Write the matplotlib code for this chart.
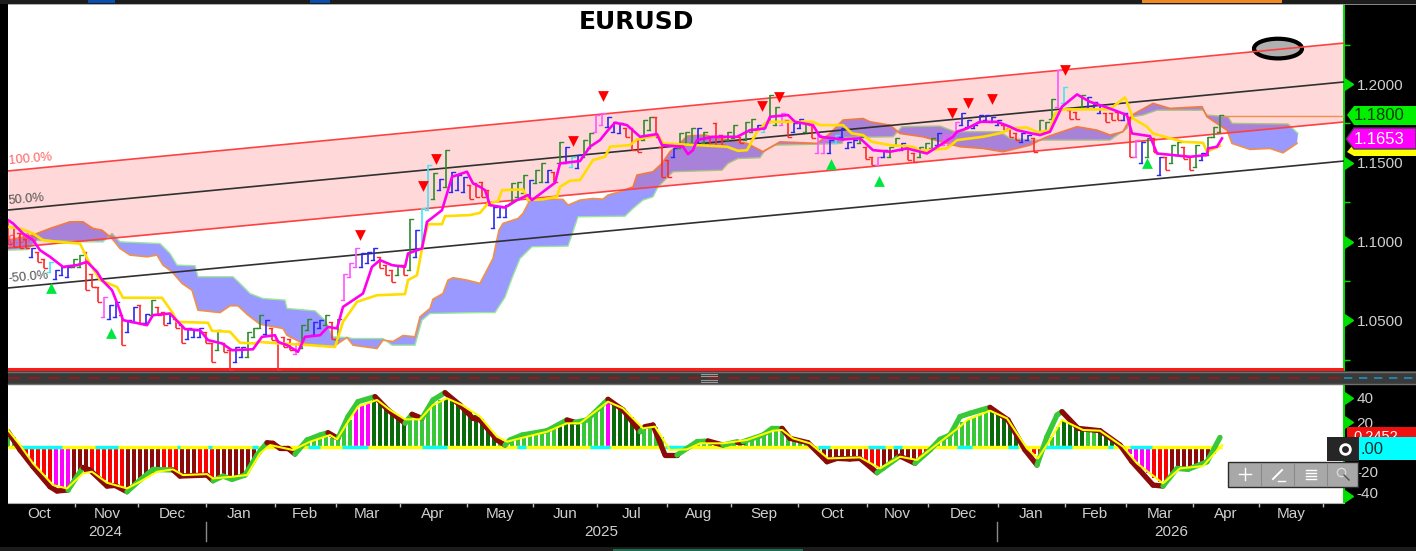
import matplotlib
matplotlib.use('Agg')
import numpy as np
import matplotlib.pyplot as plt
from matplotlib.markers import CARETRIGHTBASE
from matplotlib.patches import Ellipse, Polygon, Rectangle
from matplotlib.transforms import ScaledTranslation

plt.rcParams['font.family'] = ['Liberation Sans', 'DejaVu Sans']

# x runs along the chart's own position scale, prices are EURUSD
channel_x = [8, 1344]
upper_band = [1.1448, 1.2260]
mid_band = [1.1200, 1.2013]
lower_band = [1.0959, 1.1759]
minus_band = [1.0705, 1.1511]
floor_level = 1.0190
last_senkou = 1.1800

tenkan_x = [8, 13, 23, 33, 40, 50, 63, 77, 87, 97, 102, 112, 118, 123, 147, 153, 170, 178, 185, 200, 208, 222, 232, 253,
            262, 275, 278, 287, 298, 305, 320, 328, 337, 343, 363, 372, 380, 392, 405, 408, 422, 427, 442, 452, 467, 473,
            480, 485, 490, 505, 517, 528, 532, 555, 560, 580, 590, 600, 608, 615, 627, 640, 657, 662, 683, 688, 693, 697,
            713, 737, 750, 765, 770, 788, 795, 813, 820, 843, 860, 873, 890, 907, 927, 940, 953, 957, 967, 980, 997, 1010,
            1017, 1032, 1040, 1050, 1062, 1077, 1090, 1107, 1127, 1132, 1150, 1157, 1190, 1207, 1208, 1217, 1222]
tenkan = [1.1136, 1.1115, 1.1051, 1.1009, 1.0945, 1.0903, 1.0839, 1.0850, 1.0871, 1.0808, 1.0755, 1.0691, 1.0596, 1.0501,
          1.0469, 1.0533, 1.0543, 1.0490, 1.0444, 1.0437, 1.0374, 1.0353, 1.0310, 1.0316, 1.0395, 1.0405, 1.0363, 1.0342,
          1.0300, 1.0395, 1.0405, 1.0458, 1.0448, 1.0585, 1.0670, 1.0839, 1.0882, 1.0850, 1.0839, 1.0924, 1.0956, 1.1125,
          1.1199, 1.1411, 1.1443, 1.1369, 1.1347, 1.1326, 1.1231, 1.1216, 1.1263, 1.1295, 1.1263, 1.1373, 1.1496, 1.1511,
          1.1602, 1.1644, 1.1707, 1.1754, 1.1739, 1.1665, 1.1682, 1.1612, 1.1602, 1.1555, 1.1580, 1.1644, 1.1665, 1.1665,
          1.1707, 1.1718, 1.1792, 1.1803, 1.1760, 1.1739, 1.1665, 1.1648, 1.1655, 1.1580, 1.1570, 1.1591, 1.1559, 1.1612,
          1.1665, 1.1697, 1.1718, 1.1760, 1.1760, 1.1729, 1.1707, 1.1686, 1.1676, 1.1697, 1.1856, 1.1934, 1.1887, 1.1851,
          1.1803, 1.1686, 1.1669, 1.1559, 1.1538, 1.1549, 1.1591, 1.1602, 1.1655]

kijun_x = [8, 20, 33, 43, 57, 80, 88, 100, 117, 123, 162, 173, 177, 208, 212, 230, 240, 255, 258, 280, 310, 335, 343, 357,
           377, 405, 408, 417, 423, 428, 442, 445, 470, 480, 488, 498, 502, 523, 528, 542, 557, 560, 570, 580, 593, 605,
           610, 630, 637, 658, 663, 727, 738, 747, 757, 767, 813, 820, 843, 852, 863, 872, 890, 913, 920, 947, 957, 983,
           1002, 1010, 1027, 1038, 1050, 1055, 1063, 1110, 1115, 1125, 1130, 1133, 1147, 1153, 1167, 1183, 1203, 1207, 1220]
kijun = [1.1093, 1.1083, 1.1051, 1.1009, 1.0998, 1.0987, 1.0882, 1.0755, 1.0712, 1.0643, 1.0643, 1.0543, 1.0490, 1.0484,
         1.0433, 1.0427, 1.0357, 1.0353, 1.0363, 1.0353, 1.0342, 1.0331, 1.0490, 1.0617, 1.0659, 1.0666, 1.0755, 1.0786,
         1.0987, 1.1110, 1.1110, 1.1161, 1.1168, 1.1182, 1.1242, 1.1256, 1.1326, 1.1331, 1.1263, 1.1267, 1.1284, 1.1347,
         1.1386, 1.1390, 1.1517, 1.1538, 1.1602, 1.1612, 1.1648, 1.1676, 1.1623, 1.1602, 1.1576, 1.1580, 1.1697, 1.1760,
         1.1760, 1.1739, 1.1739, 1.1686, 1.1676, 1.1633, 1.1612, 1.1602, 1.1576, 1.1591, 1.1644, 1.1665, 1.1690, 1.1718,
         1.1724, 1.1693, 1.1707, 1.1813, 1.1839, 1.1839, 1.1866, 1.1915, 1.1834, 1.1781, 1.1729, 1.1686, 1.1661, 1.1633,
         1.1627, 1.1570, 1.1608]

senkou_b_x = [8, 33, 50, 70, 83, 93, 102, 112, 120, 130, 147, 157, 163, 172, 182, 192, 198, 220, 230, 238, 248, 260, 283,
              287, 303, 315, 333, 347, 353, 377, 383, 393, 403, 415, 420, 430, 433, 443, 448, 453, 467, 480, 493, 499, 503,
              518, 523, 530, 552, 563, 568, 580, 593, 603, 608, 620, 633, 637, 653, 662, 670, 680, 687, 705, 720, 747, 763,
              780, 817, 830, 843, 863, 870, 890, 900, 923, 947, 960, 983, 1003, 1030, 1040, 1047, 1077, 1097, 1110, 1123,
              1132, 1153, 1170, 1202, 1207, 1227, 1232, 1250, 1270, 1283, 1297]
senkou_b = [1.1009, 1.1041, 1.1083, 1.1125, 1.1125, 1.1083, 1.1072, 1.1019, 1.0956, 1.0914, 1.0903, 1.0914, 1.0850, 1.0808,
            1.0734, 1.0691, 1.0564, 1.0549, 1.0592, 1.0592, 1.0533, 1.0475, 1.0448, 1.0405, 1.0353, 1.0342, 1.0331, 1.0391,
            1.0342, 1.0321, 1.0374, 1.0365, 1.0403, 1.0395, 1.0522, 1.0575, 1.0634, 1.0670, 1.0755, 1.0770, 1.0755, 1.0734,
            1.0892, 1.1072, 1.1115, 1.1146, 1.1178, 1.1263, 1.1269, 1.1267, 1.1231, 1.1263, 1.1273, 1.1269, 1.1295, 1.1316,
            1.1347, 1.1422, 1.1443, 1.1496, 1.1570, 1.1623, 1.1669, 1.1676, 1.1655, 1.1623, 1.1570, 1.1633, 1.1623, 1.1686,
            1.1771, 1.1781, 1.1760, 1.1739, 1.1686, 1.1665, 1.1623, 1.1602, 1.1591, 1.1570, 1.1612, 1.1644, 1.1665, 1.1729,
            1.1707, 1.1676, 1.1697, 1.1803, 1.1877, 1.1845, 1.1856, 1.1792, 1.1707, 1.1623, 1.1585, 1.1591, 1.1563, 1.1623]

senkou_a_x = [8, 28, 37, 57, 80, 103, 112, 120, 160, 170, 177, 195, 198, 233, 240, 250, 263, 285, 287, 315, 325, 333, 347,
              353, 383, 392, 415, 422, 430, 480, 495, 505, 512, 520, 532, 568, 578, 625, 633, 643, 653, 658, 673, 722, 728,
              738, 760, 765, 775, 817, 842, 845, 893, 902, 940, 955, 1000, 1010, 1030, 1040, 1110, 1127, 1132, 1143, 1157,
              1203, 1207, 1228, 1232, 1288, 1298]
senkou_a = [1.0945, 1.0949, 1.1009, 1.1005, 1.0998, 1.0998, 1.1051, 1.0998, 1.0987, 1.0924, 1.0850, 1.0846, 1.0776, 1.0776,
            1.0734, 1.0670, 1.0638, 1.0628, 1.0575, 1.0560, 1.0501, 1.0395, 1.0391, 1.0384, 1.0384, 1.0342, 1.0342, 1.0501,
            1.0543, 1.0549, 1.0549, 1.0647, 1.0768, 1.0892, 1.0967, 1.0971, 1.1157, 1.1161, 1.1210, 1.1263, 1.1284, 1.1347,
            1.1443, 1.1453, 1.1496, 1.1527, 1.1532, 1.1580, 1.1612, 1.1618, 1.1623, 1.1661, 1.1665, 1.1729, 1.1733, 1.1697,
            1.1697, 1.1655, 1.1644, 1.1644, 1.1644, 1.1718, 1.1792, 1.1803, 1.1834, 1.1834, 1.1803, 1.1792, 1.1750, 1.1746,
            1.1686]

bar_high = [1.1136, 1.1093, 1.1051, 1.1019, 1.0956, 1.0935, 1.0892, 1.0871, 1.0818, 1.0839, 1.0839, 1.0892, 1.0914, 1.0935,
            1.0797, 1.0712, 1.0649, 1.0596, 1.0617, 1.0533, 1.0501, 1.0585, 1.0596, 1.0543, 1.0628, 1.0585, 1.0554, 1.0533,
            1.0511, 1.0469, 1.0448, 1.0437, 1.0448, 1.0427, 1.0353, 1.0437, 1.0353, 1.0310, 1.0331, 1.0331, 1.0427, 1.0448,
            1.0533, 1.0501, 1.0448, 1.0374, 1.0395, 1.0384, 1.0353, 1.0469, 1.0511, 1.0490, 1.0501, 1.0533, 1.0490, 1.0511,
            1.0797, 1.0861, 1.0956, 1.0924, 1.0935, 1.0956, 1.0903, 1.0850, 1.0818, 1.0850, 1.0850, 1.1146, 1.1072, 1.1210,
            1.1485, 1.1432, 1.1400, 1.1580, 1.1443, 1.1422, 1.1411, 1.1358, 1.1369, 1.1379, 1.1326, 1.1220, 1.1220, 1.1231,
            1.1369, 1.1379, 1.1422, 1.1390, 1.1453, 1.1496, 1.1453, 1.1443, 1.1633, 1.1602, 1.1538, 1.1549, 1.1644, 1.1686,
            1.1803, 1.1813, 1.1792, 1.1760, 1.1750, 1.1718, 1.1718, 1.1644, 1.1771, 1.1792, 1.1792, 1.1602, 1.1517, 1.1591,
            1.1686, 1.1697, 1.1718, 1.1718, 1.1697, 1.1665, 1.1750, 1.1676, 1.1697, 1.1739, 1.1665, 1.1760, 1.1781, 1.1739,
            1.1750, 1.1930, 1.1856, 1.1813, 1.1771, 1.1750, 1.1781, 1.1760, 1.1739, 1.1676, 1.1644, 1.1644, 1.1676, 1.1718,
            1.1633, 1.1644, 1.1665, 1.1602, 1.1538, 1.1538, 1.1580, 1.1602, 1.1655, 1.1623, 1.1591, 1.1559, 1.1602, 1.1623,
            1.1655, 1.1686, 1.1676, 1.1676, 1.1760, 1.1813, 1.1771, 1.1739, 1.1803, 1.1803, 1.1792, 1.1771, 1.1739, 1.1718,
            1.1686, 1.1686, 1.1676, 1.1655, 1.1771, 1.1760, 1.1908, 1.2088, 1.1983, 1.1834, 1.1824, 1.1930, 1.1919, 1.1887,
            1.1866, 1.1813, 1.1813, 1.1824, 1.1813, 1.1792, 1.1644, 1.1633, 1.1655, 1.1655, 1.1538, 1.1538, 1.1612, 1.1633,
            1.1602, 1.1538, 1.1612, 1.1559, 1.1665, 1.1729, 1.1803]
bar_low = [1.0987, 1.0966, 1.0956, 1.0956, 1.0903, 1.0871, 1.0829, 1.0808, 1.0765, 1.0786, 1.0776, 1.0839, 1.0839, 1.0691,
           1.0712, 1.0617, 1.0522, 1.0511, 1.0522, 1.0342, 1.0427, 1.0490, 1.0480, 1.0480, 1.0533, 1.0533, 1.0469, 1.0480,
           1.0448, 1.0353, 1.0384, 1.0395, 1.0395, 1.0353, 1.0236, 1.0310, 1.0300, 1.0183, 1.0236, 1.0268, 1.0268, 1.0395,
           1.0448, 1.0416, 1.0374, 1.0183, 1.0331, 1.0310, 1.0289, 1.0321, 1.0437, 1.0405, 1.0448, 1.0469, 1.0384, 1.0374,
           1.0628, 1.0776, 1.0839, 1.0839, 1.0861, 1.0882, 1.0829, 1.0786, 1.0744, 1.0786, 1.0786, 1.0818, 1.0903, 1.0956,
           1.1199, 1.1273, 1.1326, 1.1347, 1.1316, 1.1326, 1.1316, 1.1273, 1.1284, 1.1284, 1.1231, 1.1083, 1.1157, 1.1157,
           1.1242, 1.1284, 1.1305, 1.1263, 1.1369, 1.1379, 1.1379, 1.1379, 1.1496, 1.1496, 1.1475, 1.1464, 1.1538, 1.1591,
           1.1697, 1.1739, 1.1729, 1.1697, 1.1686, 1.1665, 1.1580, 1.1570, 1.1644, 1.1707, 1.1665, 1.1411, 1.1411, 1.1538,
           1.1591, 1.1623, 1.1623, 1.1633, 1.1623, 1.1612, 1.1612, 1.1612, 1.1644, 1.1655, 1.1623, 1.1644, 1.1697, 1.1707,
           1.1697, 1.1760, 1.1739, 1.1739, 1.1665, 1.1697, 1.1718, 1.1697, 1.1655, 1.1559, 1.1559, 1.1559, 1.1623, 1.1665,
           1.1591, 1.1602, 1.1623, 1.1527, 1.1485, 1.1485, 1.1538, 1.1538, 1.1612, 1.1580, 1.1517, 1.1506, 1.1538, 1.1580,
           1.1591, 1.1612, 1.1612, 1.1612, 1.1697, 1.1739, 1.1729, 1.1718, 1.1760, 1.1771, 1.1760, 1.1739, 1.1707, 1.1665,
           1.1644, 1.1633, 1.1644, 1.1570, 1.1697, 1.1697, 1.1781, 1.1856, 1.1877, 1.1781, 1.1781, 1.1845, 1.1845, 1.1845,
           1.1813, 1.1760, 1.1771, 1.1771, 1.1771, 1.1538, 1.1538, 1.1496, 1.1538, 1.1570, 1.1422, 1.1453, 1.1496, 1.1549,
           1.1527, 1.1453, 1.1475, 1.1517, 1.1549, 1.1665, 1.1697]
# one letter per bar: R red, B blue, G green, M magenta, C cyan
bar_codes = ''.join(['RRRR', 'B', 'RR', 'C', 'BBB', 'GG', 'RRR', 'M', 'BB', 'R', 'BB', 'R', 'B', 'G', 'RR', 'B', 'RR',
                     'BBB', 'RR', 'G', 'RR', 'BB', 'GGG', 'B', 'RRRR', 'M', 'GG', 'BB', 'G', 'R', 'G', 'MMM', 'BBB',
                     'RRR', 'G', 'R', 'G', 'B', 'CC', 'G', 'B', 'G', 'BBB', 'RRRR', 'BBB', 'GGG', 'B', 'GG', 'B', 'R',
                     'G', 'B', 'C', 'B', 'GG', 'MM', 'BBB', 'RRR', 'GG', 'RRR', 'B', 'GGG', 'B', 'G', 'RRR', 'GG', 'R',
                     'GG', 'B', 'C', 'GG', 'M', 'R', 'BB', 'G', 'R', 'MM', 'B', 'C', 'BBB', 'G', 'RR', 'M', 'B', 'GG',
                     'B', 'RR', 'GGG', 'B', 'MMM', 'BBBBBBB', 'RRR', 'BB', 'R', 'GGG', 'M', 'C', 'RR', 'G', 'BBB', 'RRR',
                     'B', 'R', 'M', 'B', 'G', 'R', 'B', 'R', 'GG', 'RR', 'G', 'B', 'GGG'])

sell_x = [360, 436, 423, 573, 603, 762, 779, 952, 968, 992, 1065]
sell_y = [1.1041, 1.1524, 1.1352, 1.1638, 1.1924, 1.1860, 1.1917, 1.1816, 1.1879, 1.1905, 1.2089]
buy_x = [51, 111, 831, 879, 1147]
buy_y = [1.0705, 1.0419, 1.1492, 1.1384, 1.1498]

# lower panel
macd_x = [8, 20, 33, 50, 57, 68, 83, 90, 107, 115, 127, 140, 153, 173, 180, 207, 213, 223, 232, 245, 257, 267, 273, 280,
          288, 295, 307, 320, 328, 338, 348, 358, 375, 388, 405, 412, 422, 433, 445, 460, 473, 480, 497, 505, 510, 522,
          547, 567, 575, 587, 608, 623, 640, 645, 653, 665, 677, 687, 697, 708, 723, 737, 743, 763, 772, 782, 790, 808,
          827, 837, 850, 860, 877, 883, 900, 915, 930, 940, 950, 960, 970, 990, 1008, 1025, 1037, 1047, 1057, 1062, 1078,
          1100, 1120, 1132, 1153, 1163, 1177, 1188, 1207, 1220]
macd = [12.4, -2.4, -15.9, -32.1, -35.6, -34.8, -16.5, -18.6, -31.6, -31.1, -36.2, -26.7, -18.1, -18.6, -23.5, -22.7, -27.3,
        -23.5, -26.2, -22.7, -6.5, 3.5, 3, -1.1, -1.1, -5.7, 5.7, 9.7, 11.6, 7, 24.6, 36.7, 40.8, 30, 19.2, 26.5, 23.2, 38.1,
        44, 34, 23.2, 21.9, 5.7, 1.6, 5.7, 9.7, 13.2, 21.9, 20, 21.9, 38.6, 30, 12.4, 16.5, 17.8, -6.5, -6.5, -1.1, 4.3, 4.9,
        1.6, 4.3, 4.3, 9.7, 15.1, 15.1, 7, 3.5, -11.9, -9.2, -9.7, -9.2, -20.8, -17.3, -7.3, -13.2, -2.4, 6.2, 9.7, 24.6, 27.3,
        32.1, 21.9, -2.4, -14.6, 8.4, 25.9, 28.6, 15.1, 13.2, 1.6, -11.9, -30.8, -31.6, -17.3, -18.1, -11.9, 7.8]
# state of the stretch that starts at each macd point, D falling, U rising
macd_state = ''.join(['DDDDD', 'U', 'DDDD', 'UUU', 'DDD', 'UUUUU', 'DDDD', 'UUU', 'D', 'UUU', 'DD', 'U', 'D', 'UU', 'DDDDD',
                      'UUUU', 'D', 'UU', 'DD', 'U', 'DDD', 'UUU', 'D', 'U', 'D', 'UUU', 'DDDDDDD', 'UU', 'D', 'UUUUUU',
                      'DDD', 'UUU', 'DDDDDD', 'UUUU'])

signal_x = [8, 20, 33, 53, 67, 83, 92, 107, 127, 140, 157, 173, 183, 207, 213, 233, 247, 260, 270, 293, 310, 330, 337, 347,
            358, 377, 390, 405, 420, 433, 447, 462, 480, 497, 507, 520, 547, 567, 580, 608, 623, 643, 655, 670, 687, 700, 723,
            747, 773, 782, 793, 810, 828, 860, 880, 900, 917, 933, 960, 967, 990, 1007, 1027, 1038, 1050, 1062, 1083, 1100,
            1123, 1137, 1163, 1180, 1203, 1222]
signal = [13.8, 1.6, -13.2, -30.8, -33.5, -21.3, -20, -28.9, -33.5, -28.1, -20, -18.1, -22.7, -21.9, -25.4, -24, -22.7, -5.1,
          1.6, -2.4, 4.3, 9.7, 6.2, 19.2, 32.7, 38.1, 30, 22.4, 22.4, 34, 39.4, 34, 24.6, 8.4, 4.3, 7, 12.4, 19.2, 19.2, 36.7,
          31.3, 15.1, 16.5, -2.4, -1.9, 3, 3, 5.7, 13.2, 13.8, 7, 3, -9.2, -8.4, -17.3, -7.8, -10.5, -0.3, 16.5, 21.9, 29.4,
          23.2, -1.1, -9.2, 5.7, 21.9, 13.8, 13.2, 0.3, -13.2, -29.4, -17.3, -15.4, 1.6]

hist = [13, 8, 2, -6, -12, -18, -23, -28, -31, -33, -33, -28, -23, -21, -20, -24, -27, -30, -31, -33, -33, -30, -28, -25, -21,
        -20, -19, -18, -20, -22, -22, -22, -22, -22, -25, -25, -24, -24, -24, -23, -21, -13, -5, 0, 1, 0, -1, -2, -1, 1, 4, 5,
        7, 9, 7, 6, 15, 22, 31, 34, 36, 38, 36, 32, 29, 25, 22, 22, 22, 23, 30, 34, 38, 39, 37, 35, 33, 29, 26, 23, 15, 10, 7,
        4, 5, 7, 8, 9, 10, 12, 13, 15, 18, 19, 19, 19, 22, 26, 31, 35, 37, 34, 32, 29, 24, 19, 15, 16, 16, 8, -1, -2, -2, -2,
        1, 3, 3, 3, 3, 3, 4, 4, 5, 6, 8, 10, 11, 13, 14, 14, 9, 7, 5, 4, 2, -4, -8, -9, -9, -9, -9, -8, -8, -11, -14, -17, -15,
        -12, -9, -8, -9, -10, -9, -5, -1, 3, 7, 11, 15, 20, 22, 24, 27, 29, 29, 26, 24, 19, 12, 4, -2, -6, -6, 2, 8, 16, 21, 19,
        16, 14, 14, 13, 13, 10, 7, 3, 0, -6, -12, -17, -21, -25, -28, -28, -23, -18, -17, -16, -16, -15, -11, -6, 1]
hist_runs = [('lime', 3), ('red', 5), ('mag', 3), ('dark', 3), ('red', 6), ('dark', 6), ('red', 3), ('dark', 3), ('red', 3),
             ('dark', 10), ('dgreen', 5), ('lime', 8), ('mag', 3), ('dgreen', 6), ('lime', 6), ('dgreen', 9), ('lime', 10),
             ('dgreen', 4), ('lime', 4), ('mag', 1), ('dgreen', 5), ('lime', 4), ('dark', 5), ('lime', 20), ('dark', 8),
             ('red', 3), ('dark', 6), ('red', 3), ('lime', 9), ('dgreen', 6), ('red', 3), ('lime', 3), ('dgreen', 4),
             ('lime', 2), ('dgreen', 5), ('mag', 4), ('red', 3), ('dark', 9)]
zero_cyan = [(20, 62), (95, 118), (177, 180), (208, 212), (252, 258), (308, 320), (342, 368), (422, 447), (517, 526),
             (590, 610), (665, 687), (818, 830), (868, 885), (893, 902), (957, 972), (1008, 1018), (1043, 1072),
             (1108, 1113), (1130, 1152)]

month_edges = [75, 138, 206, 275, 336, 400, 467, 533, 597, 667, 731, 798, 867, 928, 998, 1065, 1126, 1193, 1259, 1323]
month_centers = [39, 107, 172, 239, 305, 367, 433, 500, 565, 632, 699, 764, 832, 897, 963, 1031, 1095, 1160, 1226, 1291]
month_labels = ['Oct', 'Nov', 'Dec', 'Jan', 'Feb', 'Mar', 'Apr', 'May', 'Jun', 'Jul', 'Aug', 'Sep', 'Oct', 'Nov', 'Dec',
                'Jan', 'Feb', 'Mar', 'Apr', 'May']
years = [(105, '2024'), (601, '2025'), (1171, '2026')]
year_breaks = [206, 997]

BAR_COLOURS = {'R': '#FF2A2A', 'B': '#2A2AF0', 'G': '#2E8B2E', 'M': '#FF55FF', 'C': '#45E5F5'}
HIST_COLOURS = {'lime': '#38C838', 'dgreen': '#0A6A0A', 'red': '#FF0000', 'dark': '#8B0A0A', 'mag': '#FF00FF'}
LABEL = '#CFCFCF'
W, H = 1416, 551


def panel(fig, top, bottom):
    return fig.add_axes([8 / W, 1 - bottom / H, 1336 / W, (bottom - top) / H])


fig = plt.figure(figsize=(W / 100, H / 100), dpi=100, facecolor='black')
ax = panel(fig, 4, 371)
ax2 = panel(fig, 385, 503)

# main panel
ax.set_xlim(8, 1344)
ax.set_ylim(1.0178, 1.2508)
ax.fill(list(senkou_a_x) + list(senkou_b_x)[::-1], list(senkou_a) + list(senkou_b)[::-1],
        color='#9999FF', lw=0, zorder=1)
ax.plot(senkou_a_x, senkou_a, color='#9BE59B', lw=1.0, zorder=1.2)
ax.plot(senkou_b_x, senkou_b, color='#F0904A', lw=1.2, zorder=1.2)
ax.fill_between(channel_x, upper_band, lower_band, color='red', alpha=0.15, lw=0, zorder=2)
ax.add_patch(Ellipse((1278, 1.2225), 48, 0.0125, facecolor='#B0B0B0', edgecolor='black', lw=3.0, zorder=2.5))
ax.plot(channel_x, upper_band, color='#FF4040', lw=1.2, zorder=3)
ax.plot(channel_x, lower_band, color='#FF4040', lw=1.2, zorder=3)
ax.plot(channel_x, mid_band, color='#303030', lw=1.2, zorder=3)
ax.plot(channel_x, minus_band, color='#303030', lw=1.2, zorder=3)
ax.axhline(floor_level, color='#FF1A1A', lw=2.2, zorder=3)
ax.plot([1223, 1344], [last_senkou, last_senkou], color='#F0904A', lw=1.0, zorder=3)

bar_x = 8 + 6 * np.arange(len(bar_high))
bar_cols = [BAR_COLOURS[c] for c in bar_codes]
assert len(bar_high) == len(bar_low) == len(bar_codes)
ax.vlines(bar_x, bar_low, bar_high, colors=bar_cols, lw=1.2, zorder=4)
for x, hi, lo, code, col in zip(bar_x, bar_high, bar_low, bar_codes, bar_cols):
    # falling bars open high and close low, the others the other way round
    first, last = (hi, lo) if code == 'R' else (lo, hi)
    ax.plot([x - 3, x], [first, first], color=col, lw=1.0, zorder=4)
    ax.plot([x, x + 3], [last, last], color=col, lw=1.0, zorder=4)

ax.plot(kijun_x, kijun, color='#FFDD00', lw=1.9, zorder=5)
ax.plot(tenkan_x, tenkan, color='#FF00EE', lw=1.9, zorder=5.5)
ax.scatter(sell_x, sell_y, marker='v', s=60, color='#FF0000', lw=0, zorder=6)
ax.scatter(buy_x, buy_y, marker='^', s=60, color='#00E640', lw=0, zorder=6)

band_labels = [('100.0%', 1.1524, '#FF6060'), ('50.0%', 1.1270, '#505050'), ('0.0%', 1.1010, '#FF4060'),
               ('-50.0%', 1.0775, '#505050')]
for label, y, col in band_labels:
    ax.text(8, y, label, color=col, fontsize=9.2, rotation=5, va='center', ha='left', zorder=3.2)

ax.set_title('EURUSD', x=(636 - 8) / 1336, y=1 - 14 / 367, va='top', fontsize=18, fontweight='bold',
             family='DejaVu Sans', color='black')

# lower panel
ax2.set_xlim(8, 1344)
ax2.set_ylim(-45.3, 50.2)
hist_x = 8 + 6 * np.arange(len(hist))
hist_cols = [HIST_COLOURS[name] for name, count in hist_runs for _ in range(count)]
assert len(hist_cols) == len(hist)
ax2.bar(hist_x, hist, width=3.6, color=hist_cols, lw=0, zorder=1)
ax2.plot([8, 1222], [0, 0], color='#FFFF00', lw=2.4, solid_capstyle='butt', zorder=2)
for x0, x1 in zero_cyan:
    ax2.plot([x0, x1], [0, 0], color='#00FFFF', lw=2.4, solid_capstyle='butt', zorder=2.1)
assert len(macd_state) == len(macd) - 1 and len(macd) == len(macd_x)
for i in range(len(macd) - 1):
    col = '#8B0A0A' if macd_state[i] == 'D' else '#38C838'
    ax2.plot(macd_x[i:i + 2], macd[i:i + 2], color=col, lw=3.8, solid_capstyle='round', zorder=3)
ax2.plot(signal_x, signal, color='#FFFF00', lw=1.5, zorder=4)

# axes dressing
price_ticks = [1.05, 1.10, 1.15, 1.20]
ax.set_yticks(price_ticks, [f'{p:.4f}' for p in price_ticks])
ax.set_yticks([1.025, 1.075, 1.125, 1.175, 1.225], minor=True)
ax2.set_yticks([-40, -20, 20, 40], ['-40', '-20', '20', '40'])
ax2.set_xticks(month_edges, [''] * len(month_edges))
ax2.set_xticks(month_centers, month_labels, minor=True)
ax.set_xticks([])

for a in (ax, ax2):
    a.set_facecolor('white')
    a.yaxis.tick_right()
    for side in ('top', 'left', 'bottom'):
        a.spines[side].set_visible(False)
    a.spines['right'].set_color('#00E000')
    a.spines['right'].set_linewidth(1.4)
    a.tick_params(axis='y', which='major', length=6, width=1, color='#00E000', labelcolor=LABEL, labelsize=11, pad=3)
    a.tick_params(axis='y', which='minor', length=4, width=1, color='#00E000')
    a.plot([1] * len(a.get_yticks()), a.get_yticks(), ls='', marker=CARETRIGHTBASE, ms=9, color='#00E000',
           transform=a.get_yaxis_transform(), clip_on=False, zorder=8)
ax2.set_ylim(-45.3, 50.2)
ax2.spines['bottom'].set_visible(True)
ax2.spines['bottom'].set_color('#B0B0B0')
ax2.tick_params(axis='x', which='major', length=3, width=1, color='#C0C0C0')
ax2.tick_params(axis='x', which='minor', length=0, labelcolor=LABEL, labelsize=11, pad=3)
# the -40 label sits a little above its tick
low_label = ax2.get_yticklabels()[0]
low_label.set_transform(low_label.get_transform() + ScaledTranslation(0, 4 / 100, fig.dpi_scale_trans))
for x, label in years:
    ax2.text(x, -0.246, label, color=LABEL, fontsize=11, ha='center', va='center', transform=ax2.get_xaxis_transform())
for x in year_breaks:
    ax2.plot([x, x], [-0.16, -0.32], color='#8A8A8A', lw=1, transform=ax2.get_xaxis_transform(), clip_on=False)

# terminal chrome drawn over everything, in picture pixels
ui = fig.add_axes([0, 0, 1, 1], zorder=10)
ui.set_xlim(0, W)
ui.set_ylim(H, 0)
ui.axis('off')
ui.patch.set_alpha(0)


def box(x0, y0, x1, y1, color, **kw):
    ui.add_patch(Rectangle((x0, y0), x1 - x0, y1 - y0, facecolor=color, lw=kw.pop('lw', 0), **kw))


# top strip and bottom strip
box(0, 0, W, 4, '#1C1C1C')
box(88, 0, 115, 3, '#0A4FB0')
box(310, 0, 330, 3, '#0A4FB0')
box(1142, 0, 1282, 3, '#F08A20')
ui.plot([8, W], [4.3, 4.3], color='#A0A0A0', lw=0.6)
box(0, 547, W, H, '#1C1C1C')
box(613, 549, 803, H, '#1F6B50')

# divider between the panels
box(8, 371, W, 385, '#3A3A3A')
ui.plot([8, W], [372, 372], color='#707070', lw=1)
ui.plot([8, W], [384, 384], color='#707070', lw=1)
ui.plot([8, 1344], [378, 378], color='#A01818', lw=1.2, dashes=(7, 5))
ui.plot([1344, W], [378, 378], color='#2090C0', lw=1.2, dashes=(5, 4))
for y in (374, 376, 380, 382):
    ui.plot([701, 717], [y, y], color='#9A9A9A', lw=0.8)

# price tags on the right
ui.add_patch(Polygon([(1347, 115), (1354, 106), (1416, 106), (1416, 125), (1354, 125)], facecolor='#00F000', lw=0))
ui.text(1354, 116, '1.1800', color='#0A3A0A', fontsize=12, va='center', ha='left')
ui.add_patch(Polygon([(1347, 152), (1352, 146), (1416, 146), (1416, 156), (1354, 156)], facecolor='#FFFF00', lw=0))
ui.add_patch(Polygon([(1346, 139), (1354, 128), (1416, 128), (1416, 149), (1354, 149)], facecolor='#FF00FF',
                     edgecolor='#404040', lw=1))
ui.text(1354, 139, '1.1653', color='white', fontsize=12, va='center', ha='left')

# lower panel tags and toolbar, the red tag's text runs under the cyan one
box(1347, 427, W, 438, '#F01010')
ui.text(1353, 437, '0.2452', color='white', fontsize=10.5, va='center', ha='left', zorder=2.5)
box(1359, 437, W, 460, '#00FFFF', zorder=3)
box(1347, 438, 1359, 460, 'black', zorder=3)
ui.text(1361, 449, '.00', color='#103030', fontsize=12, va='center', ha='left', zorder=4)
box(1327, 437, 1359, 461, '#262626', zorder=3.2)
ui.plot([1344.5], [449], marker='o', ms=7, mfc='none', mec='white', mew=2, zorder=4)
box(1228, 462, 1358, 487, '#A8A8A8', edgecolor='#2A2A2A', lw=1)
for x in (1261, 1294, 1327):
    ui.plot([x, x], [463, 486], color='#8A8A8A', lw=0.8)
ui.plot([1239, 1251], [474, 474], color='white', lw=1)
ui.plot([1245, 1245], [468, 480], color='white', lw=1)
ui.plot([1273, 1282], [479, 470], color='white', lw=1.4)
ui.plot([1278, 1285], [481, 481], color='white', lw=1)
for y in (470, 473, 476, 479):
    ui.plot([1306, 1316], [y, y], color='white', lw=1)
ui.plot([1341], [472], marker='o', ms=6, mfc='none', mec='#D8D8D8', mew=1)
ui.plot([1344, 1349], [475, 480], color='#505050', lw=1)

fig.savefig('out.png', dpi=100, facecolor='black')
